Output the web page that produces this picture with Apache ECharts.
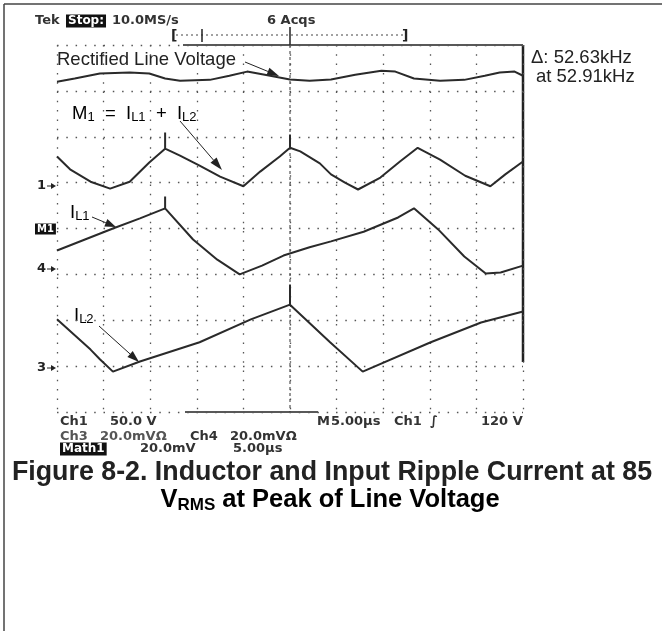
<!DOCTYPE html>
<html><head><meta charset="utf-8">
<script src="https://cdn.jsdelivr.net/npm/echarts@6/dist/echarts.min.js"></script>
<style>html,body{margin:0;padding:0;background:#fff}#c{width:662px;height:631px}</style>
</head><body><div id="c"></div>
<script>
// Time axis: 5.00 µs/div, 10 divisions; vertical: 8 divisions, centre = 0
const timeRange = [0, 50];
const divRange = [-4, 4];

// Rectified line voltage (Ch1) [µs, div]
const lineVoltage = [[0,3.20],[1.9,3.27],[4.6,3.38],[7.8,3.40],[9.9,3.38],[11.6,3.27],[13.2,3.22],[16.4,3.24],[18.5,3.33],[20.4,3.42],[22.3,3.35],[25.0,3.25],[27.1,3.22],[29.4,3.25],[32.0,3.35],[34.8,3.44],[36.3,3.42],[38.3,3.27],[41.1,3.22],[43.7,3.24],[45.9,3.33],[47.5,3.40],[49.1,3.42],[50,3.33]];
// M1 = IL1 + IL2
const m1Sum = [[0,1.57],[1.4,1.29],[3.6,1.02],[5.7,0.87],[7.8,1.02],[9.9,1.44],[11.6,1.74],[11.6,2.09],[11.6,1.74],[13.2,1.59],[15.3,1.37],[17.5,1.13],[20.0,0.92],[21.8,1.24],[23.9,1.57],[25.0,1.76],[25.0,2.05],[25.0,1.76],[26.1,1.68],[28.2,1.42],[29.4,1.18],[30.9,1.00],[32.3,0.85],[34.7,1.11],[36.8,1.46],[38.7,1.76],[41.1,1.50],[43.8,1.15],[46.5,0.92],[48.1,1.18],[50,1.46]];
// IL1 (Ch4)
const iL1 = [[0,-0.48],[3.0,-0.24],[6.0,0.0],[8.9,0.22],[11.6,0.44],[11.6,0.70],[11.6,0.44],[14.6,-0.24],[17.2,-0.68],[19.6,-1.00],[22.0,-0.81],[24.3,-0.59],[27.1,-0.41],[29.4,-0.28],[32.9,-0.07],[36.6,0.24],[38.3,0.44],[40.9,-0.02],[43.7,-0.61],[46.0,-0.98],[47.6,-0.96],[50,-0.81]];
// IL2 (Ch3)
const iL2 = [[0,-1.98],[3.6,-2.64],[4.6,-2.85],[6.0,-3.12],[8.9,-2.90],[15.3,-2.48],[20.8,-1.98],[25.0,-1.66],[25.0,-1.22],[25.0,-1.66],[29.3,-2.48],[32.8,-3.12],[40.1,-2.48],[45.5,-2.05],[50,-1.81]];

const scopeFont = '"DejaVu Sans", sans-serif';
const annFont = '"Liberation Sans", Arial, sans-serif';
const ink = '#222';

function txt(x, y, text, size, opts) {
  opts = opts || {};
  return { type: 'text', x: x, y: y, style: Object.assign({ text: text, font: (opts.bold ? 'bold ' : '') + size + 'px ' + (opts.family || annFont), fill: opts.fill || ink, textVerticalAlign: 'middle', textAlign: opts.align || 'left' }, opts.style || {}) };
}
function seg(x1, y1, x2, y2, w, dash, color) {
  return { type: 'line', shape: { x1: x1, y1: y1, x2: x2, y2: y2 }, style: { stroke: color || ink, lineWidth: w || 1, lineDash: dash || null } };
}
function arrow(x1, y1, x2, y2, headLen, headW) {
  const a = Math.atan2(y2 - y1, x2 - x1);
  const bx = x2 - headLen * Math.cos(a), by = y2 - headLen * Math.sin(a);
  const px = -Math.sin(a) * headW, py = Math.cos(a) * headW;
  return [
    seg(x1, y1, bx, by, 1),
    { type: 'polygon', shape: { points: [[x2, y2], [bx + px, by + py], [bx - px, by - py]] }, style: { fill: ink } }
  ];
}
function boxText(x, y, text, size) {
  return { type: 'text', x: x, y: y, style: { text: text, font: 'bold ' + size + 'px ' + scopeFont, fill: '#fff', backgroundColor: '#111', padding: [1, 2, 0, 2], textVerticalAlign: 'middle' } };
}
function sc(x, y, text, fill) {
  return txt(x, y, text, 13, { family: scopeFont, bold: true, fill: fill || '#333' });
}

const sub = { fontSize: 13, fontFamily: annFont, verticalAlign: 'bottom', lineHeight: 8, color: ink };
const main = { fontSize: 18.5, fontFamily: annFont, lineHeight: 20, color: ink };

const graphics = [].concat(
  // outer frame
  [seg(4, 4, 662, 4, 1.5, null, '#444'), seg(4, 4, 4, 631, 1.5, null, '#444')],
  // graticule solid parts
  [seg(183, 45, 523, 45, 1.5), seg(523, 45, 523, 362, 2.5), seg(185, 412, 318, 412, 1.5), seg(290, 45, 290, 412, 1, [3, 3], '#333')],
  // top bracket
  [seg(176, 35, 404, 35, 1, [2, 3], '#444'), seg(202, 29, 202, 42, 1.5), seg(290, 27, 290, 45, 1.5),
   txt(171, 36, '[', 14, { family: scopeFont, bold: true }), txt(402, 36, ']', 14, { family: scopeFont, bold: true })],
  // header
  [sc(35, 21, 'Tek'), boxText(66, 21, 'Stop:', 12),
   sc(112, 21, '10.0MS/s'), sc(267, 21, '6 Acqs')],
  // annotations
  [txt(57, 60, 'Rectified Line Voltage', 18.5)], arrow(245, 62, 279, 76, 12, 4),
  [{ type: 'text', x: 72, y: 114, style: { text: '{m|M}{s|1}{m|  =  I}{s|L1}{m|  +  I}{s|L2}', rich: { m: main, s: sub }, textVerticalAlign: 'middle' } }],
  arrow(180, 121, 222, 170, 13, 4),
  [{ type: 'text', x: 70, y: 213, style: { text: '{m|I}{s|L1}', rich: { m: main, s: sub }, textVerticalAlign: 'middle' } }],
  arrow(92, 217, 116, 227, 11, 4),
  [{ type: 'text', x: 74, y: 316, style: { text: '{m|I}{s|L2}', rich: { m: main, s: sub }, textVerticalAlign: 'middle' } }],
  arrow(99, 326, 139, 362, 12, 4),
  [txt(531, 58, 'Δ: 52.63kHz', 18.5), txt(536, 77, 'at 52.91kHz', 18.5)],
  // left channel markers
  [txt(37, 186, '1', 13, { family: scopeFont, bold: true })], arrow(47, 186, 56, 186, 5, 3),
  [boxText(35, 229, 'M1', 10)],
  [txt(37, 269, '4', 13, { family: scopeFont, bold: true })], arrow(47, 269, 56, 269, 5, 3),
  [txt(37, 368, '3', 13, { family: scopeFont, bold: true })], arrow(47, 368, 56, 368, 5, 3),
  // bottom readout
  [sc(60, 422, 'Ch1'), sc(110, 422, '50.0 V'),
   sc(317, 422, 'M'), sc(331, 422, '5.00µs'),
   sc(394, 422, 'Ch1'), sc(430, 422, '∫'),
   sc(481, 422, '120 V'),
   sc(60, 437, 'Ch3', '#555'), sc(100, 437, '20.0mVΩ', '#555'),
   sc(190, 437, 'Ch4'), sc(230, 437, '20.0mVΩ'),
   boxText(60, 449, 'Math1', 12), sc(140, 449, '20.0mV'), sc(233, 449, '5.00µs')],
  // caption
  [txt(332, 473, 'Figure 8-2. Inductor and Input Ripple Current at 85', 26.8, { bold: true, align: 'center' }),
   { type: 'text', x: 330, y: 500, style: { text: '{m|V}{s|RMS}{m| at Peak of Line Voltage}', textAlign: 'center', textVerticalAlign: 'middle',
     rich: { m: { fontSize: 25.5, fontWeight: 'bold', fontFamily: annFont, lineHeight: 27, color: ink }, s: { fontSize: 17, fontWeight: 'bold', fontFamily: annFont, verticalAlign: 'bottom', lineHeight: 12, color: ink } } } }]
);

const dotted = { type: [1.5, 7.8], color: '#555', width: 1.3 };
const traceStyle = { color: '#2a2a2a', width: 2 };
function trace(name, data) {
  return { name: name, type: 'line', data: data, showSymbol: false, smooth: false, lineStyle: traceStyle, itemStyle: { color: '#2a2a2a' }, silent: true, animation: false, z: 5 };
}

const chart = echarts.init(document.getElementById('c'), null, { renderer: 'canvas' });
chart.setOption({
  backgroundColor: '#fff',
  animation: false,
  grid: { left: 57, top: 45, right: 139, bottom: 219 },
  xAxis: { type: 'value', min: timeRange[0], max: timeRange[1], interval: 5, axisLine: { show: false }, axisTick: { show: false }, axisLabel: { show: false }, splitLine: { show: true, lineStyle: dotted } },
  yAxis: { type: 'value', min: divRange[0], max: divRange[1], interval: 1, axisLine: { show: false }, axisTick: { show: false }, axisLabel: { show: false }, splitLine: { show: true, lineStyle: dotted } },
  series: [trace('Rectified Line Voltage', lineVoltage), trace('M1', m1Sum), trace('IL1', iL1), trace('IL2', iL2)],
  graphic: graphics
});
</script></body></html>
